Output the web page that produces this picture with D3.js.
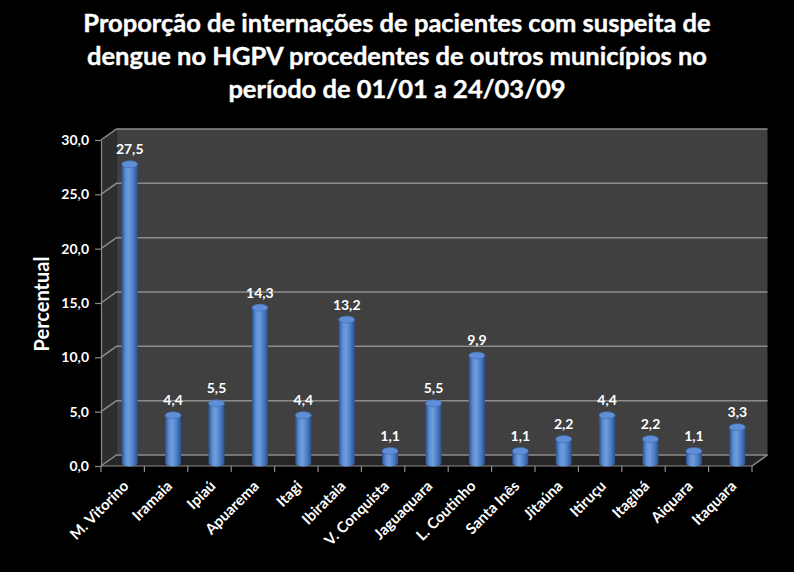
<!DOCTYPE html>
<html>
<head>
<meta charset="utf-8">
<script src="https://cdn.jsdelivr.net/npm/d3@7"></script>
<style>
  body { margin: 0; background: #000; }
  svg text { font-family: Lato, 'Open Sans', sans-serif; font-weight: bold; fill: #fff; }
</style>
</head>
<body>
<div id="chartwrap"></div>
<script>
const categories = ['M. Vitorino', 'Iramaia', 'Ipiaú', 'Apuarema', 'Itagi', 'Ibirataia', 'V. Conquista',
  'Jaguaquara', 'L. Coutinho', 'Santa Inês', 'Jitaúna', 'Itiruçu', 'Itagibá', 'Aiquara', 'Itaquara'];
const values = [27.5, 4.4, 5.5, 14.3, 4.4, 13.2, 1.1, 5.5, 9.9, 1.1, 2.2, 4.4, 2.2, 1.1, 3.3];
const yTicks = [0, 5, 10, 15, 20, 25, 30];
const titleLines = ['Proporção de internações de pacientes com suspeita de',
  'dengue no HGPV procedentes de outros municípios no',
  'período de 01/01 a 24/03/09'];
const yLabel = 'Percentual';

const WIDTH = 794;
const HEIGHT = 572;
const plot = { left: 101, right: 752, top: 140, bottom: 466 };
const depth = { dx: 15.5, dy: -11 };
const barW = 16;
const ry = 3.5;

const ptFormat = d3.formatLocale({ decimal: ',', thousands: '.', grouping: [3], currency: ['R$', ''] }).format('.1f');

const xScale = d3.scaleBand()
  .domain(categories)
  .range([plot.left, plot.right]);

const yScale = d3.scaleLinear()
  .domain([0, 30])
  .range([plot.bottom, plot.top]);

const svg = d3.select('#chartwrap')
  .append('svg')
  .attr('width', WIDTH)
  .attr('height', HEIGHT)
  .style('background-color', '#000');

const defs = svg.append('defs');
const grad = defs.append('linearGradient').attr('id', 'cyl').attr('x1', 0).attr('x2', 1).attr('y1', 0).attr('y2', 0);
[['0%', '#2b5291'], ['25%', '#5f8fd4'], ['45%', '#6e9de0'], ['75%', '#4a7bc2'], ['100%', '#2a4f8c']]
  .forEach(s => grad.append('stop').attr('offset', s[0]).attr('stop-color', s[1]));

// walls
const y0 = yScale(0), y30 = yScale(30);
const poly = pts => pts.map(p => p.join(',')).join(' ');

svg.append('polygon')
  .attr('points', poly([[plot.left + depth.dx, y30 + depth.dy], [plot.right + depth.dx, y30 + depth.dy],
    [plot.right + depth.dx, y0 + depth.dy], [plot.left + depth.dx, y0 + depth.dy]]))
  .attr('fill', '#404040');

svg.append('polygon')
  .attr('points', poly([[plot.left, y30], [plot.left + depth.dx, y30 + depth.dy],
    [plot.left + depth.dx, y0 + depth.dy], [plot.left, y0]]))
  .attr('fill', '#2e2e2e');

svg.append('polygon')
  .attr('points', poly([[plot.left, y0], [plot.left + depth.dx, y0 + depth.dy],
    [plot.right + depth.dx, y0 + depth.dy], [plot.right, y0]]))
  .attr('fill', '#262626');

// gridlines
const grid = svg.append('g').attr('stroke', '#8c8c8c').attr('stroke-width', 1.5).attr('fill', 'none');
grid.selectAll('polyline')
  .data(yTicks)
  .enter()
  .append('polyline')
  .attr('points', d => poly([[plot.left, yScale(d)], [plot.left + depth.dx, yScale(d) + depth.dy],
    [plot.right + depth.dx, yScale(d) + depth.dy]]));
grid.append('line')
  .attr('x1', plot.right).attr('y1', y0)
  .attr('x2', plot.right + depth.dx).attr('y2', y0 + depth.dy);

// y axis
const yAxis = d3.axisLeft(yScale)
  .tickValues(yTicks)
  .tickFormat(ptFormat)
  .tickSize(6)
  .tickSizeOuter(0)
  .tickPadding(6);

const ya = svg.append('g')
  .attr('transform', `translate(${plot.left},0)`)
  .call(yAxis);
ya.selectAll('path, line').attr('stroke', '#8c8c8c').attr('stroke-width', 1.2);
ya.selectAll('text').attr('fill', '#fff').style('font-size', '14px').style('font-family', 'Lato, sans-serif').style('font-weight', 'bold');

// x axis line + boundary ticks
const xa = svg.append('g').attr('stroke', '#8c8c8c').attr('stroke-width', 1.2);
xa.append('line').attr('x1', plot.left).attr('x2', plot.right).attr('y1', y0).attr('y2', y0);
const bounds = categories.map(c => xScale(c)).concat([xScale.range()[1]]);
xa.selectAll('line.tk')
  .data(bounds)
  .enter()
  .append('line')
  .attr('class', 'tk')
  .attr('x1', d => d).attr('x2', d => d)
  .attr('y1', y0).attr('y2', y0 + 6);

// cylinders
const bx = c => xScale(c) + xScale.bandwidth() / 2 + 7;
const by = v => yScale(v) - 3;

const bars = svg.selectAll('g.bar')
  .data(categories.map((c, i) => ({ c, v: values[i] })))
  .enter()
  .append('g')
  .attr('class', 'bar');

bars.append('path')
  .attr('d', d => {
    const x = bx(d.c), t = by(d.v), b = by(0), r = barW / 2;
    return `M${x - r},${t} L${x - r},${b} A${r},${ry} 0 0 0 ${x + r},${b} L${x + r},${t} Z`;
  })
  .attr('fill', 'url(#cyl)');

bars.append('ellipse')
  .attr('cx', d => bx(d.c))
  .attr('cy', d => by(d.v))
  .attr('rx', barW / 2)
  .attr('ry', ry)
  .attr('fill', '#5f8ed6')
  .attr('stroke', '#3d6bb0')
  .attr('stroke-width', 0.6);

bars.append('text')
  .attr('x', d => bx(d.c))
  .attr('y', d => by(d.v) - 10)
  .attr('text-anchor', 'middle')
  .style('font-size', '14px')
  .text(d => ptFormat(d.v));

// category labels
svg.selectAll('text.cat')
  .data(categories)
  .enter()
  .append('text')
  .attr('class', 'cat')
  .attr('text-anchor', 'end')
  .attr('transform', d => `translate(${xScale(d) + xScale.bandwidth() / 2 + 7},${y0 + 21}) rotate(-45)`)
  .style('font-size', '15px')
  .text(d => d);

// title
svg.selectAll('text.title')
  .data(titleLines)
  .enter()
  .append('text')
  .attr('class', 'title')
  .attr('x', 397)
  .attr('y', (d, i) => 32 + i * 33)
  .attr('text-anchor', 'middle')
  .style('font-size', '25.5px')
  .style('stroke', '#fff')
  .style('stroke-width', 0.4)
  .text(d => d);

svg.append('text')
  .attr('transform', 'translate(49,304) rotate(-90)')
  .attr('text-anchor', 'middle')
  .style('font-size', '20px')
  .text(yLabel);
</script>
</body>
</html>
